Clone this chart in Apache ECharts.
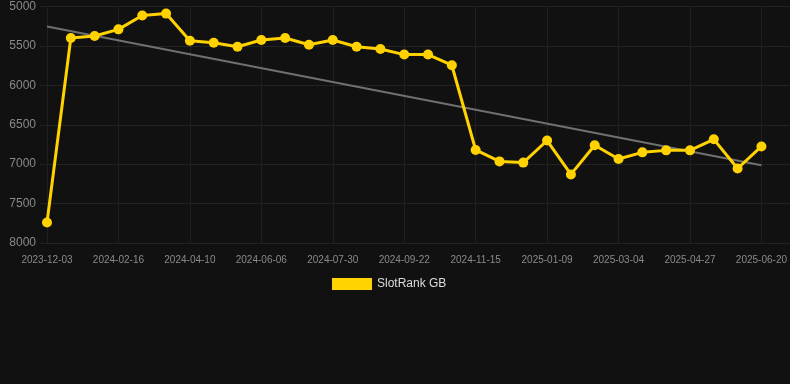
<!DOCTYPE html>
<html>
<head>
<meta charset="utf-8">
<script src="https://cdn.jsdelivr.net/npm/echarts@6/dist/echarts.min.js"></script>
<style>
html,body{margin:0;padding:0;background:#111111;}
#chart{width:790px;height:384px;}
</style>
</head>
<body>
<div id="chart"></div>
<script>
var categories = ["2023-12-03","2023-12-28","2024-01-22","2024-02-16","2024-03-04","2024-03-22","2024-04-10","2024-04-29","2024-05-18","2024-06-06","2024-06-24","2024-07-12","2024-07-30","2024-08-17","2024-09-04","2024-09-22","2024-10-10","2024-10-28","2024-11-15","2024-12-03","2024-12-21","2025-01-09","2025-01-27","2025-02-14","2025-03-04","2025-03-22","2025-04-09","2025-04-27","2025-05-15","2025-06-02","2025-06-20"];
var rankValues = [7740,5400,5375,5290,5115,5090,5435,5460,5510,5425,5400,5485,5425,5510,5540,5610,5610,5745,6820,6965,6980,6700,7130,6760,6935,6850,6825,6825,6685,7055,6775];
var trendStart = 5255;
var trendEnd = 7015;
var yTicks = [5000,5500,6000,6500,7000,7500,8000];

var trendValues = categories.map(function(c, i){
  if (i === 0) return trendStart;
  if (i === categories.length - 1) return trendEnd;
  return null;
});

var fontFam = 'Liberation Sans, Arial, sans-serif';
var chart = echarts.init(document.getElementById('chart'));
chart.setOption({
  backgroundColor: '#111111',
  animation: false,
  grid: [
    {left: 40, right: 0, top: 6.5, bottom: 141, containLabel: false},
    {left: 47, right: 28, top: 6.5, bottom: 141, containLabel: false}
  ],
  legend: {
    data: ['SlotRank GB'],
    top: 273,
    left: 327,
    itemWidth: 40,
    itemHeight: 12,
    itemGap: 10,
    textStyle: {color: '#dddddd', fontSize: 12, fontFamily: fontFam},
    icon: 'rect'
  },
  xAxis: [
    {
      gridIndex: 0,
      type: 'value',
      min: 0, max: 1,
      show: false
    },
    {
      gridIndex: 1,
      type: 'category',
      data: categories,
      boundaryGap: false,
      axisLine: {show: false},
      axisTick: {show: false},
      axisLabel: {interval: 2, color: '#8a8a8a', fontSize: 10, margin: 12, fontFamily: fontFam},
      splitLine: {show: true, interval: 2, lineStyle: {color: '#1f1f1f', width: 1}}
    }
  ],
  yAxis: [
    {
      gridIndex: 0,
      type: 'value',
      inverse: true,
      min: yTicks[0],
      max: yTicks[yTicks.length - 1],
      interval: 500,
      axisLine: {show: false},
      axisTick: {show: false},
      axisLabel: {color: '#8a8a8a', fontSize: 12, margin: 4, fontFamily: fontFam, formatter: function(v){ return String(v); }},
      splitLine: {show: true, lineStyle: {color: '#232323', width: 1}}
    },
    {
      gridIndex: 1,
      type: 'value',
      inverse: true,
      min: yTicks[0],
      max: yTicks[yTicks.length - 1],
      interval: 500,
      show: false,
      splitLine: {show: false}
    }
  ],
  series: [
    {
      name: 'Trend',
      type: 'line',
      xAxisIndex: 1,
      yAxisIndex: 1,
      data: trendValues,
      connectNulls: true,
      symbol: 'none',
      lineStyle: {color: '#707070', width: 2},
      z: 1,
      silent: true
    },
    {
      name: 'SlotRank GB',
      type: 'line',
      xAxisIndex: 1,
      yAxisIndex: 1,
      data: rankValues,
      symbol: 'circle',
      symbolSize: 10,
      lineStyle: {color: '#FFD200', width: 3},
      itemStyle: {color: '#FFD200'},
      z: 2
    }
  ]
});
</script>
</body>
</html>
